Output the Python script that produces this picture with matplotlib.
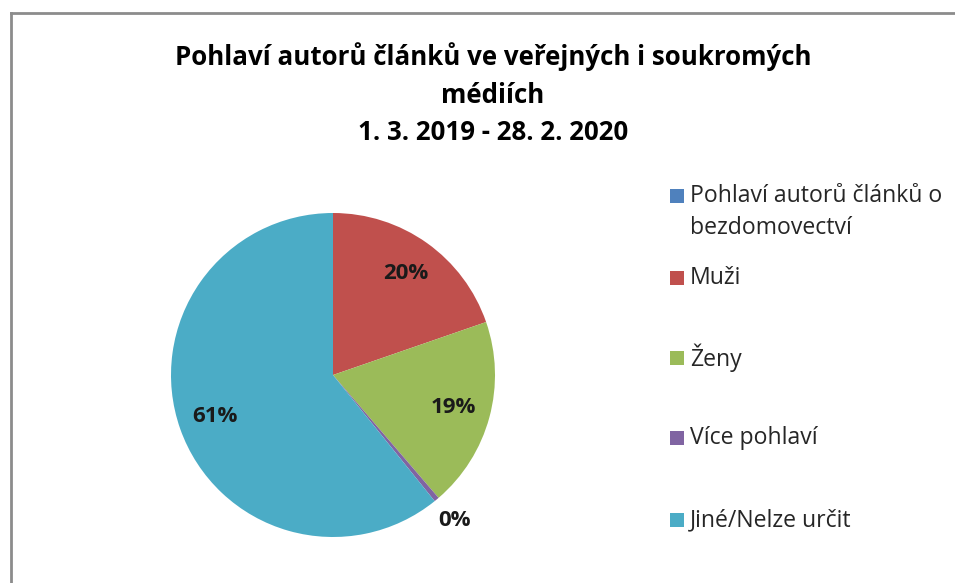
import numpy as np
import matplotlib.pyplot as plt
from matplotlib.lines import Line2D
from matplotlib.patches import Rectangle

# data
labels = ["Pohlaví autorů článků o\nbezdomovectví", "Muži", "Ženy", "Více pohlaví", "Jiné/Nelze určit"]
values = [0.0, 19.7, 19.0, 0.5, 60.8]
pct_text = ["", "20%", "19%", "0%", "61%"]
colors = ["#4F81BD", "#C0504D", "#9BBB59", "#8064A2", "#4BACC6"]

title_lines = ["Pohlaví autorů článků ve veřejných i soukromých", "médiích", "1. 3. 2019 - 28. 2. 2020"]

plt.rcParams['font.family'] = ['Open Sans', 'DejaVu Sans']

W, H = 955, 583
fig = plt.figure(figsize=(W / 100, H / 100), dpi=100)


def fx(px):
    return px / W


def fy(py):
    return 1 - py / H


# chart frame (only the left and top edges are visible)
fig.add_artist(Line2D([fx(11), fx(11)], [0, fy(13)], color="#8c8c8c", lw=2))
fig.add_artist(Line2D([fx(11), 1], [fy(13), fy(13)], color="#8c8c8c", lw=2))

# pie
cx, cy, r = 333, 375, 162
ax = fig.add_axes([fx(cx - r), fy(cy + r), 2 * r / W, 2 * r / H])
wedges, _ = ax.pie(values, colors=colors, startangle=90, counterclock=False,
                   wedgeprops=dict(linewidth=0))
ax.set_xlim(-1, 1)
ax.set_ylim(-1, 1)
ax.set_aspect("auto")
ax.axis("off")

for w, v, t in zip(wedges, values, pct_text):
    if not t:
        continue
    ang = np.deg2rad((w.theta1 + w.theta2) / 2)
    d = 0.77 if v > 3 else 1.17
    ax.text(d * np.cos(ang), d * np.sin(ang), t, ha="center", va="center",
            fontsize=16, fontweight="bold", color="#1a1a1a", clip_on=False)

# title
for i, line in enumerate(title_lines):
    fig.text(fx(493), fy(57 + 38 * i), line, ha="center", va="center",
             fontsize=18.6, fontweight="bold", color="black")

# legend
leg_y = [196, 278, 358, 438, 520]
for lab, c, y in zip(labels, colors, leg_y):
    fig.add_artist(Rectangle((fx(670), fy(y + 7)), 14 / W, 14 / H, facecolor=c,
                             edgecolor="none", transform=fig.transFigure))
    for j, p in enumerate(lab.split("\n")):
        fig.text(fx(690), fy(y + 32 * j), p, ha="left", va="center",
                 fontsize=16.6, color="#262626")

fig.savefig("out.png", dpi=100)
